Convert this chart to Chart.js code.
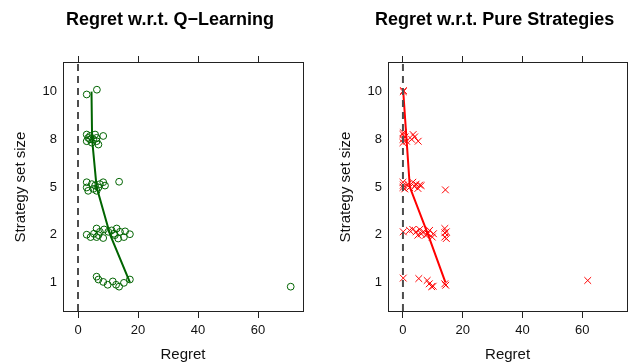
<!DOCTYPE html>
<html><head><meta charset="utf-8">
<script src="https://cdn.jsdelivr.net/npm/chart.js@4"></script>
<style>
html,body{margin:0;padding:0;background:#fff;width:629px;height:364px;overflow:hidden;position:relative}
.p{position:absolute;top:0;width:308px;height:364px}
</style></head><body>
<div class="p" style="left:0"><canvas id="c1" width="308" height="364"></canvas></div>
<div class="p" style="left:325px"><canvas id="c2" width="308" height="364"></canvas></div>
<script>
// ---- data ----
const panelTitles = ["Regret w.r.t. Q\u2212Learning", "Regret w.r.t. Pure Strategies"];
const setSizes = [1, 2, 5, 8, 10];            // categorical y levels (bottom to top)
const xTickValues = [0, 20, 40, 60];
const zeroRegret = 0;

// Q-Learning panel: regret of each point, its set size, and vertical jitter
const qlRegret = [
  2.9, 6.3,
  2.9, 3.4, 2.9, 4.0, 4.0, 4.6, 5.7, 6.2, 6.2, 6.8, 8.4, 5.1,
  2.9, 2.9, 3.4, 4.6, 5.1, 5.7, 6.2, 6.8, 7.3, 8.4, 9.0, 13.7,
  2.9, 4.2, 5.3, 6.2, 6.2, 7.3, 8.4, 8.7, 10.1, 11.2, 12.0, 12.9, 13.4, 14.0, 15.3, 15.7, 17.3, 12.3, 6.8,
  6.2, 6.8, 8.4, 9.9, 11.6, 12.7, 13.7, 15.3, 17.3, 70.9
];
const qlSize = [
  10, 10,
  8, 8, 8, 8, 8, 8, 8, 8, 8, 8, 8, 8,
  5, 5, 5, 5, 5, 5, 5, 5, 5, 5, 5, 5,
  2, 2, 2, 2, 2, 2, 2, 2, 2, 2, 2, 2, 2, 2, 2, 2, 2, 2, 2,
  1, 1, 1, 1, 1, 1, 1, 1, 1, 1
];
const qlJitter = [
  -0.06, 0.04,
  0.10, 0.03, -0.04, 0.07, 0.00, -0.07, 0.10, 0.03, -0.04, -0.11, 0.07, 0.00,
  0.10, -0.01, -0.08, 0.06, -0.04, 0.03, -0.08, -0.01, 0.06, 0.10, 0.03, 0.11,
  0.00, -0.05, 0.02, 0.13, -0.05, 0.06, -0.07, 0.11, 0.06, 0.09, 0.02, 0.13, -0.08, 0.06, -0.05, 0.07, 0.01, -0.01, -0.01,
  0.12, 0.06, 0.01, -0.05, 0.02, -0.05, -0.09, -0.01, 0.06, -0.09
];
const qlLine = [17.3, 10.7, 6.2, 4.7, 4.5];   // per set size 1,2,5,8,10

// Pure strategies panel
const psRegret = [
  0.1, 0.2,
  0.0, 0.0, 0.0, 0.7, 1.2, 2.9, 3.4, 3.9, 5.1, 0.1,
  0.0, 0.0, 0.1, 0.6, 1.6, 2.2, 3.3, 3.9, 4.4, 5.0, 5.6, 6.1, 14.2,
  0.1, 2.2, 3.3, 4.4, 5.0, 5.6, 6.1, 6.9, 7.6, 8.3, 8.9, 9.8, 10.2, 14.0, 14.0, 14.0, 14.5, 14.5,
  0.1, 5.3, 8.1, 8.8, 9.6, 10.1, 14.0, 14.3, 61.8
];
const psSize = [
  10, 10,
  8, 8, 8, 8, 8, 8, 8, 8, 8, 8,
  5, 5, 5, 5, 5, 5, 5, 5, 5, 5, 5, 5, 5,
  2, 2, 2, 2, 2, 2, 2, 2, 2, 2, 2, 2, 2, 2, 2, 2, 2, 2,
  1, 1, 1, 1, 1, 1, 1, 1, 1
];
const psJitter = [
  0.00, 0.02,
  0.10, 0.00, -0.07, 0.05, -0.04, 0.00, 0.10, 0.05, -0.04, 0.14,
  0.10, -0.01, 0.04, -0.04, 0.06, -0.01, 0.10, 0.01, 0.06, -0.03, 0.04, 0.03, -0.06,
  0.06, 0.09, 0.11, 0.06, -0.01, 0.11, 0.02, 0.06, -0.01, 0.02, 0.09, -0.05, 0.02, 0.13, 0.04, -0.05, 0.06, -0.08,
  0.09, 0.08, 0.04, -0.03, -0.09, -0.08, -0.03, -0.06, 0.04
];
const psLine = [14.2, 8.4, 2.3, 1.2, 0.1];

// ---- chart ----
const FAMILY = "'Liberation Sans', Arial, Helvetica, sans-serif";
Chart.defaults.font.family = FAMILY;
const levelPos = s => setSizes.indexOf(s) + 1;

const shiftTitle = {
  id: 'shiftTitle',
  afterLayout(chart) {
    const t = chart.titleBlock;
    if (t) { t.left -= 13; t.right -= 13; }
  }
};

function makePanel(id, title, regret, size, jitter, line, color, style, radius) {
  const pts = regret.map((r, i) => ({x: r, y: levelPos(size[i]) + jitter[i]}));
  const linePts = setSizes.map((s, i) => ({x: line[i], y: levelPos(s)}));
  const axisCol = '#222';
  const tickX = s => { s.ticks = xTickValues.map(v => ({value: v})); };
  const yMin = 0.4, yMax = 5.6;
  new Chart(document.getElementById(id), {
    data: {
      datasets: [
        {type: 'line', data: [{x: zeroRegret, y: yMin}, {x: zeroRegret, y: yMax}],
         borderColor: '#4d4d4d', borderWidth: 2, borderDash: [7, 5], pointRadius: 0},
        {type: 'line', data: linePts, borderColor: color, borderWidth: 2, pointRadius: 0, tension: 0},
        {type: 'scatter', data: pts, showLine: false, pointStyle: style, pointRadius: radius,
         pointBorderWidth: 1, borderColor: color, backgroundColor: 'rgba(0,0,0,0)',
         pointBackgroundColor: 'rgba(0,0,0,0)', pointBorderColor: color}
      ]
    },
    options: {
      responsive: false, animation: false, devicePixelRatio: 1,
      layout: {padding: {left: 0, right: 1, top: 0, bottom: 0}},
      plugins: {
        legend: {display: false}, tooltip: {enabled: false},
        title: {display: true, text: title, fullSize: false, color: '#000',
                font: {size: 18, weight: 'bold', family: FAMILY}, padding: {top: 9, bottom: 10}}
      },
      scales: {
        x: {type: 'linear', position: 'bottom', min: -5, max: 75,
            afterBuildTicks: tickX, afterFit: s => { s.height = 53; },
            grid: {drawOnChartArea: false, drawTicks: true, tickLength: 7, color: axisCol},
            border: {display: true, color: axisCol, width: 1},
            ticks: {padding: 5, color: '#111', font: {size: 13}, maxRotation: 0, autoSkip: false},
            title: {display: true, text: 'Regret', color: '#111', font: {size: 15}, padding: {top: 0, bottom: 0}}},
        xTop: {type: 'linear', position: 'top', min: -5, max: 75,
            afterBuildTicks: tickX, afterFit: s => { s.height = 22.4; },
            grid: {drawOnChartArea: false, drawTicks: true, tickLength: 7, color: axisCol},
            border: {display: true, color: axisCol, width: 1},
            ticks: {display: false}},
        y: {type: 'linear', position: 'left', min: yMin, max: yMax,
            afterBuildTicks: s => { s.ticks = setSizes.map((v, i) => ({value: i + 1})); },
            afterFit: s => { s.width = 63; },
            grid: {drawOnChartArea: false, drawTicks: false},
            border: {display: true, color: axisCol, width: 1},
            ticks: {padding: 6, color: '#111', font: {size: 13},
                    callback: v => String(setSizes[Math.round(v) - 1])},
            title: {display: true, text: 'Strategy set size', color: '#111', font: {size: 15}, padding: {top: 12, bottom: 0}}},
        yRight: {type: 'linear', position: 'right', min: yMin, max: yMax,
            afterFit: s => { s.width = 0; },
            grid: {display: false, drawTicks: false},
            border: {display: true, color: axisCol, width: 1},
            ticks: {display: false}}
      }
    },
    plugins: [shiftTitle]
  });
}

makePanel('c1', panelTitles[0], qlRegret, qlSize, qlJitter, qlLine, 'darkgreen', 'circle', 3.4);
makePanel('c2', panelTitles[1], psRegret, psSize, psJitter, psLine, '#ff0000', 'crossRot', 4.8);
</script>
</body></html>
